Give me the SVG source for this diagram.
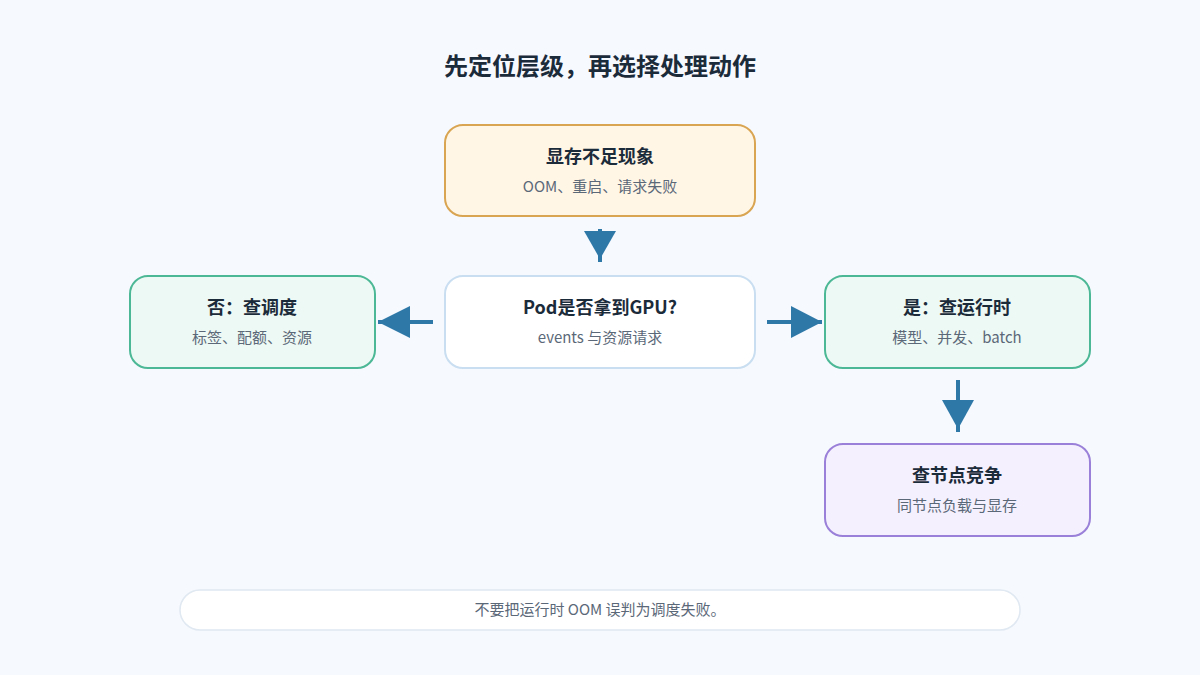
<svg xmlns="http://www.w3.org/2000/svg" width="1200" height="675" viewBox="0 0 1200 675">
<style>
.t{font-family:"Noto Sans CJK SC","Noto Sans",sans-serif;font-weight:700;font-size:18px;fill:#1c2b3a;text-anchor:middle}
.s{font-family:"Noto Sans CJK SC","Noto Sans",sans-serif;font-size:15px;fill:#5b6878;text-anchor:middle}
.ln{stroke:#2e78a8;stroke-width:4;fill:none}
.ah{fill:#2e78a8}
</style>
<rect width="1200" height="675" fill="#f6f9fe"/>
<text x="600" y="75" class="t" style="font-size:24px">先定位层级，再选择处理动作</text>
<g id="symptom">
<rect x="445" y="125" width="310" height="91" rx="18" fill="#fff6e6" stroke="#d9a552" stroke-width="2"/>
<text x="600" y="163" class="t">显存不足现象</text>
<text x="600" y="192" class="s">OOM、重启、请求失败</text>
</g>
<g id="pod">
<rect x="445" y="276" width="310" height="92" rx="18" fill="#ffffff" stroke="#c9def0" stroke-width="2"/>
<text x="600" y="314" class="t">Pod是否拿到GPU?</text>
<text x="600" y="343" class="s">events 与资源请求</text>
</g>
<g id="no">
<rect x="130" y="276" width="245" height="92" rx="18" fill="#edf9f4" stroke="#4db896" stroke-width="2"/>
<text x="252" y="314" class="t">否：查调度</text>
<text x="252" y="343" class="s">标签、配额、资源</text>
</g>
<g id="yes">
<rect x="825" y="276" width="265" height="92" rx="18" fill="#edf9f4" stroke="#4db896" stroke-width="2"/>
<text x="957" y="314" class="t">是：查运行时</text>
<text x="957" y="343" class="s">模型、并发、batch</text>
</g>
<g id="node">
<rect x="825" y="444" width="265" height="92" rx="18" fill="#f4f0fd" stroke="#9a80d8" stroke-width="2"/>
<text x="957" y="482" class="t">查节点竞争</text>
<text x="957" y="511" class="s">同节点负载与显存</text>
</g>
<g id="note">
<rect x="180" y="590" width="840" height="40" rx="20" fill="#ffffff" stroke="#e0e8f1" stroke-width="1.5"/>
<text x="600" y="615" class="s">不要把运行时 OOM 误判为调度失败。</text>
</g>
<g id="connectors">
<line class="ln" x1="600" y1="229" x2="600" y2="262"/>
<polygon class="ah" points="584,231 616,231 600,259"/>
<line class="ln" x1="433" y1="322" x2="378" y2="322"/>
<polygon class="ah" points="410,306 410,338 378,322"/>
<line class="ln" x1="767" y1="322" x2="822" y2="322"/>
<polygon class="ah" points="791,306 791,338 822,322"/>
<line class="ln" x1="958" y1="380" x2="958" y2="432"/>
<polygon class="ah" points="942,400 974,400 958,429"/>
</g>
</svg>
